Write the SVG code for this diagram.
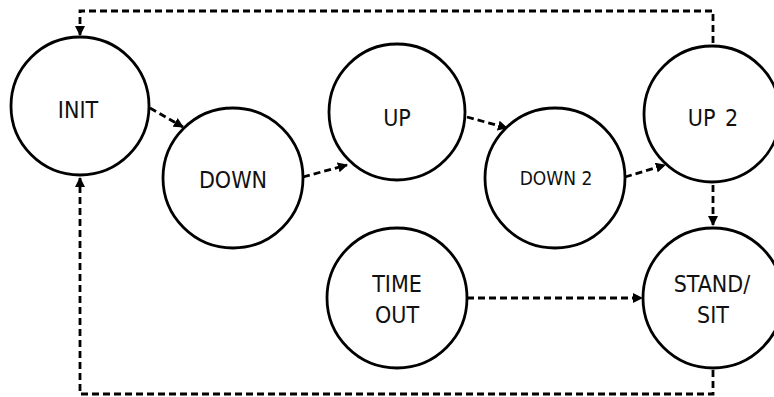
<svg xmlns="http://www.w3.org/2000/svg" width="774" height="397" viewBox="0 0 774 397">
<defs>
<style>
.node{fill:#fff;stroke:#000;stroke-width:2.8}
.lbl{font-family:"DejaVu Sans Condensed","Liberation Sans",sans-serif;font-stretch:condensed;font-size:23px;fill:#111;text-anchor:middle}
.small{font-size:19px}
.edge{fill:none;stroke:#000;stroke-width:2.8;stroke-dasharray:7 4}
</style>
<marker id="ah" viewBox="0 0 10 10" refX="9" refY="5" markerWidth="3.6" markerHeight="3.6" markerUnits="strokeWidth" orient="auto">
<path d="M0,0 L10,5 L0,10 z" fill="#000"/>
</marker>
</defs>
<rect width="774" height="397" fill="#fff"/>
<g id="connectors">
<path class="edge" d="M713,43 V11 H80 V35" marker-end="url(#ah)"/>
<path class="edge" d="M713,370 V394 H80 V178" marker-end="url(#ah)"/>
<path class="edge" d="M150,108 L183,127" marker-end="url(#ah)"/>
<path class="edge" d="M303,177 L347,165" marker-end="url(#ah)"/>
<path class="edge" d="M467,117 L507,128" marker-end="url(#ah)"/>
<path class="edge" d="M625,177 L665,165" marker-end="url(#ah)"/>
<path class="edge" d="M713,185 V225" marker-end="url(#ah)"/>
<path class="edge" d="M467,298 H642" marker-end="url(#ah)"/>
</g>
<g id="init"><circle class="node" cx="80" cy="106" r="69"/><text class="lbl" x="78" y="118">INIT</text></g>
<g id="down"><circle class="node" cx="233" cy="178" r="70"/><text class="lbl" x="233" y="188">DOWN</text></g>
<g id="up"><circle class="node" cx="397" cy="112" r="68"/><text class="lbl" x="397" y="126">UP</text></g>
<g id="down2"><circle class="node" cx="555" cy="178" r="70"/><text class="lbl small" x="556" y="185">DOWN 2</text></g>
<g id="up2"><circle class="node" cx="712" cy="114" r="68"/><text class="lbl" x="713" y="126">UP <tspan dx="3">2</tspan></text></g>
<g id="timeout"><circle class="node" cx="397" cy="298" r="70"/><text class="lbl" x="397" y="292">TIME</text><text class="lbl" x="397" y="323">OUT</text></g>
<g id="standsit"><circle class="node" cx="713" cy="298" r="70"/><text class="lbl" x="712" y="292">STAND/</text><text class="lbl" x="713" y="323">SIT</text></g>
</svg>
